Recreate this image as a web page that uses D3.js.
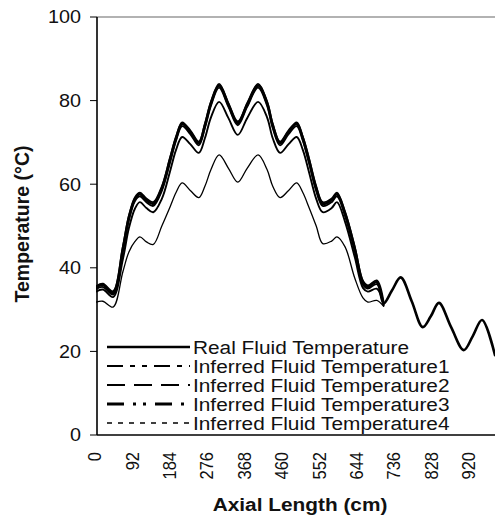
<!DOCTYPE html>
<html>
<head>
<meta charset="utf-8">
<script src="https://cdn.jsdelivr.net/npm/d3@7"></script>
<style>
  html, body { margin: 0; padding: 0; background: #fff; }
  svg { display: block; font-family: "Liberation Sans", Arial, Helvetica, sans-serif; }
</style>
</head>
<body>
<svg id="chart" width="495" height="516"></svg>
<script>
// ---------- data ----------
const axialLength = [0,17,42,66,81,96,108,124,141,162,182,197,212,232,253,268,283,303,326,349,372,399,421,435,453,474,494,509,524,542,558,580,593,613,637,657,669,691,708];
const axialLengthDownstream = [728,750,777,804,824,844,874,905,927,950,982];

const realTemp = [35.3,35.9,34.0,44.5,52.0,56.5,57.6,56.2,55.3,59.0,65.8,71.0,74.4,72.5,69.8,74.0,79.4,83.6,79.0,74.6,79.0,83.6,79.4,74.0,69.8,72.5,74.4,71.0,65.8,59.0,55.3,56.2,57.6,53.0,44.5,36.5,35.4,36.6,31.5];
const realTempDownstream = [34.5,37.7,32.0,25.8,28.4,31.6,25.8,20.3,23.6,27.5,19.1];

const inferredTemp1 = [34.9,35.4,33.6,43.8,51.4,56.0,57.1,55.7,54.8,58.4,65.1,70.4,73.9,72.0,69.3,73.4,78.8,83.1,78.5,74.1,78.5,83.1,78.8,73.4,69.3,72.0,73.9,70.4,65.1,58.4,54.8,55.7,57.1,52.4,43.9,36.0,35.0,36.1,31.2];
const inferredTemp2 = [34.3,34.8,33.0,42.0,49.5,54.2,55.7,54.3,53.3,56.5,63.0,68.2,71.3,69.6,67.5,71.0,76.0,79.7,75.8,71.8,75.8,79.7,76.0,71.0,67.5,69.6,71.3,68.2,63.0,56.5,53.3,54.3,55.7,51.0,42.5,35.2,34.3,35.0,31.0];
const inferredTemp3 = [35.6,36.2,34.4,45.0,52.5,56.9,58.0,56.6,55.7,59.5,66.3,71.4,74.8,72.9,70.2,74.5,79.8,84.0,79.4,75.0,79.4,84.0,79.8,74.5,70.2,72.9,74.8,71.4,66.3,59.5,55.7,56.6,58.0,53.4,45.0,36.9,35.8,37.0,31.7];
const inferredTemp4 = [31.8,32.0,30.6,39.0,43.8,46.3,47.4,46.2,45.6,50.0,54.5,58.0,60.3,58.5,56.8,59.5,63.5,67.0,63.8,60.5,63.8,67.0,63.5,59.5,56.8,58.5,60.3,58.0,54.5,50.0,45.8,46.4,47.4,45.0,37.5,32.8,31.8,32.2,30.8];

const seriesNames = ["Real Fluid Temperature","Inferred Fluid Temperature1","Inferred Fluid Temperature2","Inferred Fluid Temperature3","Inferred Fluid Temperature4"];
const xTickValues = [0,92,184,276,368,460,552,644,736,828,920];
const yTickValues = [0,20,40,60,80,100];

// ---------- layout ----------
const svg = d3.select("#chart");
const plot = {left: 96, top: 17, bottom: 435, right: 495};
const x = d3.scaleLinear().domain([0, 982]).range([plot.left, plot.right]);
const y = d3.scaleLinear().domain([0, 100]).range([plot.bottom, plot.top]);

const styles = [
  {width: 2.6, legendWidth: 2.4, legendDash: null},
  {width: 1.8, legendWidth: 2.0, legendDash: "16,7,5,7,5,7"},
  {width: 1.9, legendWidth: 2.0, legendDash: "18,9"},
  {width: 1.8, legendWidth: 3.0, legendDash: "17,9,3,7,3,9"},
  {width: 1.3, legendWidth: 1.6, legendDash: "5,6"}
];

const realAll = realTemp.concat(realTempDownstream);
const series = [
  axialLength.concat(axialLengthDownstream).map((d,i) => [d, realAll[i]]),
  axialLength.map((d,i) => [d, inferredTemp1[i]]),
  axialLength.map((d,i) => [d, inferredTemp2[i]]),
  axialLength.map((d,i) => [d, inferredTemp3[i]]),
  axialLength.map((d,i) => [d, inferredTemp4[i]])
];

svg.append("defs").append("clipPath").attr("id","clip")
  .append("rect").attr("x", plot.left).attr("y", plot.top - 2)
  .attr("width", plot.right - plot.left).attr("height", plot.bottom - plot.top + 2);

// top border of plot area
svg.append("line").attr("x1", plot.left + 1).attr("x2", plot.right).attr("y1", y(100)).attr("y2", y(100))
  .attr("stroke", "#666").attr("stroke-width", 1.2);

// y axis
const yAxis = svg.append("g");
yAxis.append("line").attr("x1", 97).attr("x2", 97).attr("y1", y(100)).attr("y2", y(0))
  .attr("stroke", "#000").attr("stroke-width", 1.6);
yTickValues.forEach(v => {
  yAxis.append("line").attr("x1", 90).attr("x2", 97).attr("y1", y(v)).attr("y2", y(v))
    .attr("stroke", "#000").attr("stroke-width", 1);
  yAxis.append("text").attr("transform", `translate(81,${y(v)}) scale(1.1,1)`)
    .attr("text-anchor", "end").attr("dy", "0.36em")
    .attr("font-size", 18).attr("fill", "#111").text(v);
});

// x axis
svg.append("line").attr("x1", 97).attr("x2", plot.right).attr("y1", y(0)).attr("y2", y(0))
  .attr("stroke", "#000").attr("stroke-width", 1.5);
xTickValues.forEach(v => {
  svg.append("text").attr("transform", `translate(${x(v) - 1.5},452) rotate(-90) scale(1,1.15)`)
    .attr("text-anchor", "end").attr("dy", "0.36em")
    .attr("font-size", 16.5).attr("fill", "#111").text(v);
});

// axis titles
svg.append("text").attr("transform", "translate(300,511) scale(1.12,1)")
  .attr("text-anchor", "middle").attr("font-size", 18.6).attr("font-weight", "bold")
  .attr("fill", "#111").text("Axial Length (cm)");
svg.append("text").attr("transform", "translate(29,224) rotate(-90)")
  .attr("text-anchor", "middle").attr("font-size", 19.5).attr("font-weight", "bold")
  .attr("fill", "#111").text("Temperature (°C)");

// lines
const line = d3.line().x(d => x(d[0])).y(d => y(d[1])).curve(d3.curveCatmullRom.alpha(0.5));
const g = svg.append("g").attr("clip-path", "url(#clip)");
[4,2,1,3,0].forEach(i => {
  g.append("path").datum(series[i]).attr("d", line)
    .attr("fill", "none").attr("stroke", "#000")
    .attr("stroke-width", styles[i].width)
    .attr("stroke-linejoin", "round").attr("stroke-linecap", "round");
});

// legend
const legend = svg.append("g");
seriesNames.forEach((name, i) => {
  const ly = 347 + i * 19;
  legend.append("line").attr("x1", 107).attr("x2", 190).attr("y1", ly).attr("y2", ly)
    .attr("stroke", "#000").attr("stroke-width", styles[i].legendWidth)
    .attr("stroke-dasharray", styles[i].legendDash);
  legend.append("text").attr("transform", `translate(193,${ly}) scale(1.12,1)`)
    .attr("dy", "0.36em").attr("font-size", 18.6).attr("fill", "#111").text(name);
});
</script>
</body>
</html>
